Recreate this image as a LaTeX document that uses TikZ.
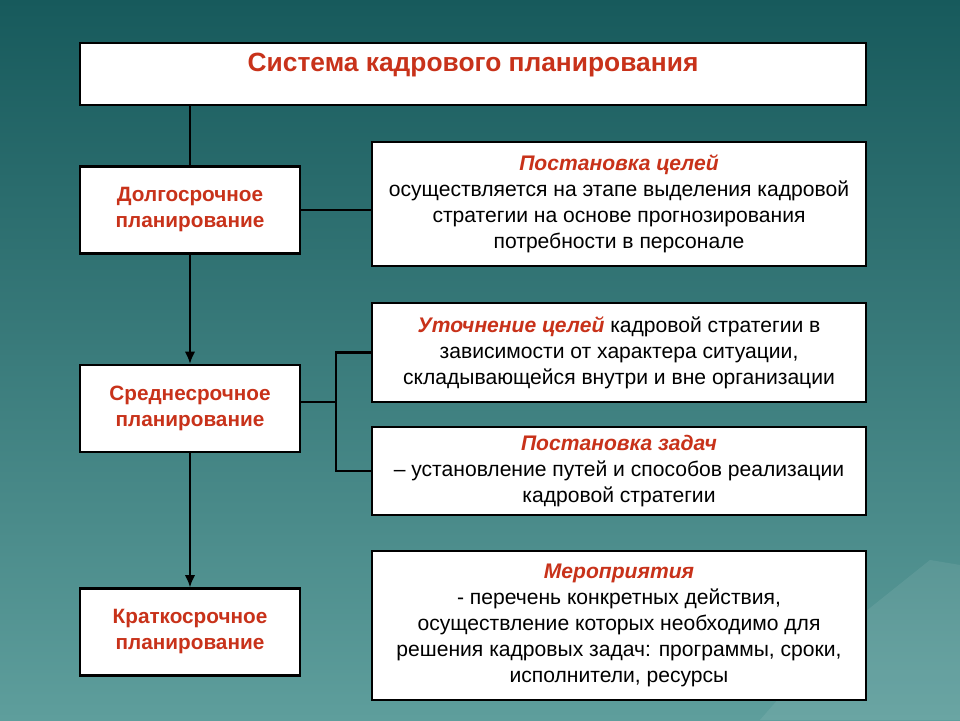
\documentclass[tikz,border=0pt]{standalone}
\usepackage{fontspec}
\setmainfont{Liberation Sans}
\usetikzlibrary{arrows.meta}
\definecolor{rd}{HTML}{C8321A}
\definecolor{bgtop}{HTML}{175A5C}
\definecolor{bgbot}{HTML}{5E9E9C}
\begin{document}
\begin{tikzpicture}[x=0.02cm,y=-0.02cm,
  box/.style={draw=black,line width=1.2pt,fill=white,inner sep=2pt,align=center,font=\fontsize{12}{14.8}\selectfont},
  lbox/.style={box,minimum width=4.4cm,minimum height=1.74cm,text=rd,font=\fontsize{11.8}{14.8}\selectfont\bfseries},
  rbox/.style={box,minimum width=9.88cm},
  ln/.style={line width=1.6pt,black},
  ar/.style={ln,-{Latex[length=7pt,width=6pt]}}]
\shade[top color=bgtop,bottom color=bgbot] (0,0) rectangle (960,720);
\useasboundingbox (0,0) rectangle (960,720);
\fill[white,opacity=0.08] (760,720) -- (830,640) -- (880,600) -- (930,560) -- (960,565) -- (960,720) -- cycle;
\node[box,minimum width=15.72cm,minimum height=1.24cm] (title) at (473,74) {};
\node[text=rd,font=\fontsize{15}{18}\selectfont\bfseries] (tt) at (473,65) {Система кадрового планирования};
\node[lbox] (long) at (190,210) {Долгосрочное\\планирование};
\node[lbox] (mid) at (190,408.5) {Среднесрочное\\планирование};
\node[lbox] (short) at (190,632) {Краткосрочное\\планирование};
\node[rbox,minimum height=2.48cm] (goal) at (619,204) {{\color{rd}\bfseries\itshape Постановка целей}\\осуществляется на этапе выделения кадровой\\стратегии на основе прогнозирования\\потребности в персонале};
\node[rbox,minimum height=1.98cm] (refine) at (619,352.5) {{\color{rd}\bfseries\itshape Уточнение целей} кадровой стратегии в\\зависимости от характера ситуации,\\складывающейся внутри и вне организации};
\node[rbox,minimum height=1.76cm] (tasks) at (619,471) {{\color{rd}\bfseries\itshape Постановка задач}\\– установление путей и способов реализации\\кадровой стратегии};
\node[rbox,minimum height=2.98cm] (meas) at (619,625.5) {{\color{rd}\bfseries\itshape Мероприятия}\\- перечень конкретных действия,\\осуществление которых необходимо для\\решения кадровых задач: программы, сроки,\\исполнители, ресурсы};
\draw[ln] (title.south -| long.north) -- (long.north);
\draw[ar] (long) -- (mid);
\draw[ar] (mid) -- (short);
\draw[ln] (long.east) -- (long.east -| goal.west);
\coordinate (j) at (336,402);
\draw[ln] (mid.east |- j) -- (j);
\draw[ln] (refine.west) -- (refine.west -| j) -- (tasks.west -| j) -- (tasks.west);
\end{tikzpicture}
\end{document}
